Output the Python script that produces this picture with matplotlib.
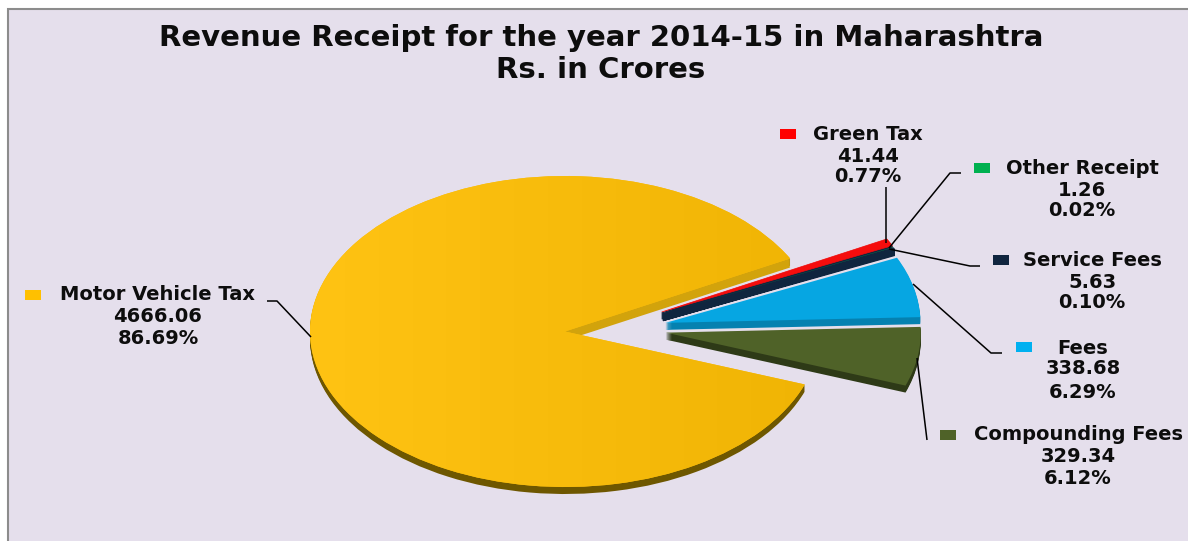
import matplotlib
matplotlib.use('Agg')
import matplotlib.pyplot as plt
import numpy as np
from matplotlib.colors import LinearSegmentedColormap
from matplotlib.patches import Rectangle

# Chart data, Rs. in crores
categories = ['Motor Vehicle Tax', 'Compounding Fees', 'Fees', 'Service Fees', 'Other Receipt', 'Green Tax']
values = [4666.06, 329.34, 338.68, 5.63, 1.26, 41.44]
percents = ['86.69%', '6.12%', '6.29%', '0.10%', '0.02%', '0.77%']
amounts = ['4666.06', '329.34', '338.68', '5.63', '1.26', '41.44']

# Colours
top_colors = ['#FABB0E', '#4F6228', '#06A6E2', '#10253F', '#00B050', '#F50D0D']
side_colors = ['#6E5700', '#2E3A17', '#0581B0', '#10253F', '#10253F', '#10253F']
key_colors = ['#FFC000', '#4F6228', '#00B0F0', '#10253F', '#00B050', '#FF0000']
bg_color = '#E5DFEC'

W, H = 1188, 541
fig = plt.figure(figsize=(W / 100, H / 100), dpi=100, facecolor='white')

# Pie axes: one unit is the ellipse radius, so the circle gets squashed
rx, ry = 255.0, 155.5
cx, cy = 565.0, 331.5
pie_ax = fig.add_axes([0, 0, 1, 1])
pie_ax.set_facecolor('none')

# overlay in pixel coords for texts, keys and leader lines
px = fig.add_axes([0, 0, 1, 1], zorder=3)
px.set_xlim(0, W)
px.set_ylim(H, 0)
px.axis('off')

bg = Rectangle((8, 9), W + 10, H, facecolor=bg_color, edgecolor='#8C8C8C', linewidth=1.5,
               transform=px.transData, zorder=-5)
fig.add_artist(bg)

explode = [0, 0.40, 0.405, 0.424, 0.424, 0.424]
y_nudge = [0, 8.5, -6, -10, -10, -10]  # px, the picture's perspective moves apexes vertically
start = 28.0
depth = 7


def draw_pie(shift, colors, z):
    wedges, _ = pie_ax.pie(values, explode=explode, colors=colors, startangle=start,
                           counterclock=True, center=(0, -shift / ry), radius=1.0,
                           wedgeprops={'linewidth': 0})
    for w, n in zip(wedges, y_nudge):
        c = w.center
        w.set_center((c[0], c[1] + n / ry))
        w.set_zorder(z)
    return wedges


# extrude downward to get the 3D side
for d in range(depth, 0, -1):
    wedges = draw_pie(d, side_colors, 1)
    # thin slices need an edge or their tips fade out
    for w in wedges[3:]:
        w.set_edgecolor(w.get_facecolor())
        w.set_linewidth(0.8)

# upper cut face of the big slice is lighter than its bottom rim,
# so repeat only the start of that slice in the lighter colour
for d in range(depth + 2, 0, -1):
    wedges = draw_pie(d, side_colors, 1.1)
    for w in wedges[1:]:
        w.set_visible(False)
    wedges[0].set_facecolor('#D2A30C')
    wedges[0].set_theta2(start + 90)

tops = draw_pie(0, top_colors, 2)
tops[5].set_edgecolor(top_colors[5])
tops[5].set_linewidth(0.5)

# soft left-to-right shading on the big slice
shade = LinearSegmentedColormap.from_list('shade', ['#FFC313', '#F0B404'])
im = pie_ax.imshow(np.linspace(0, 1, 256).reshape(1, -1), extent=(-1, 1, -1, 1), cmap=shade,
                   aspect='auto', zorder=2.5)
im.set_clip_path(tops[0])

pie_ax.set_aspect('auto')
pie_ax.set_xlim((0 - cx) / rx, (W - cx) / rx)
pie_ax.set_ylim((cy - H) / ry, cy / ry)
pie_ax.axis('off')

# Title
px.text(601, 38, 'Revenue Receipt for the year 2014-15 in Maharashtra', ha='center', va='center',
        fontsize=21, fontweight='bold', color='#0D0D0D')
px.text(601, 70, 'Rs. in Crores', ha='center', va='center',
        fontsize=21, fontweight='bold', color='#0D0D0D')

# Label layout: key box x/y, text centre x, three text rows
label_pos = {
    'Motor Vehicle Tax': (25, 290, 158, 295, 316, 338),
    'Compounding Fees': (940, 430, 1078, 435, 457, 478),
    'Fees': (1016, 342, 1083, 348, 369, 392),
    'Service Fees': (993, 255, 1092, 260, 282, 303),
    'Other Receipt': (974, 163, 1082, 168, 190, 211),
    'Green Tax': (780, 129, 868, 134, 156, 177),
}
for name, amt, pct, kc in zip(categories, amounts, percents, key_colors):
    kx, ky, tx, y1, y2, y3 = label_pos[name]
    px.add_patch(Rectangle((kx, ky), 16, 10, facecolor=kc, edgecolor='none'))
    for txt, y in zip([name, amt, pct], [y1, y2, y3]):
        px.text(tx, y, txt, ha='center', va='center', fontsize=14, fontweight='bold', color='#0D0D0D')

# Leader lines
leaders = [
    ([267, 277, 311], [301, 301, 337]),
    ([927, 917], [440, 358]),
    ([1002, 991, 913], [353, 353, 284]),
    ([980, 970, 889], [266, 266, 249]),
    ([961, 950, 889], [173, 173, 248]),
    ([886, 886], [187, 243]),
]
for xs, ys in leaders:
    px.plot(xs, ys, color='black', linewidth=1.1, solid_capstyle='butt')

fig.savefig('out.png', dpi=100, facecolor=fig.get_facecolor())
